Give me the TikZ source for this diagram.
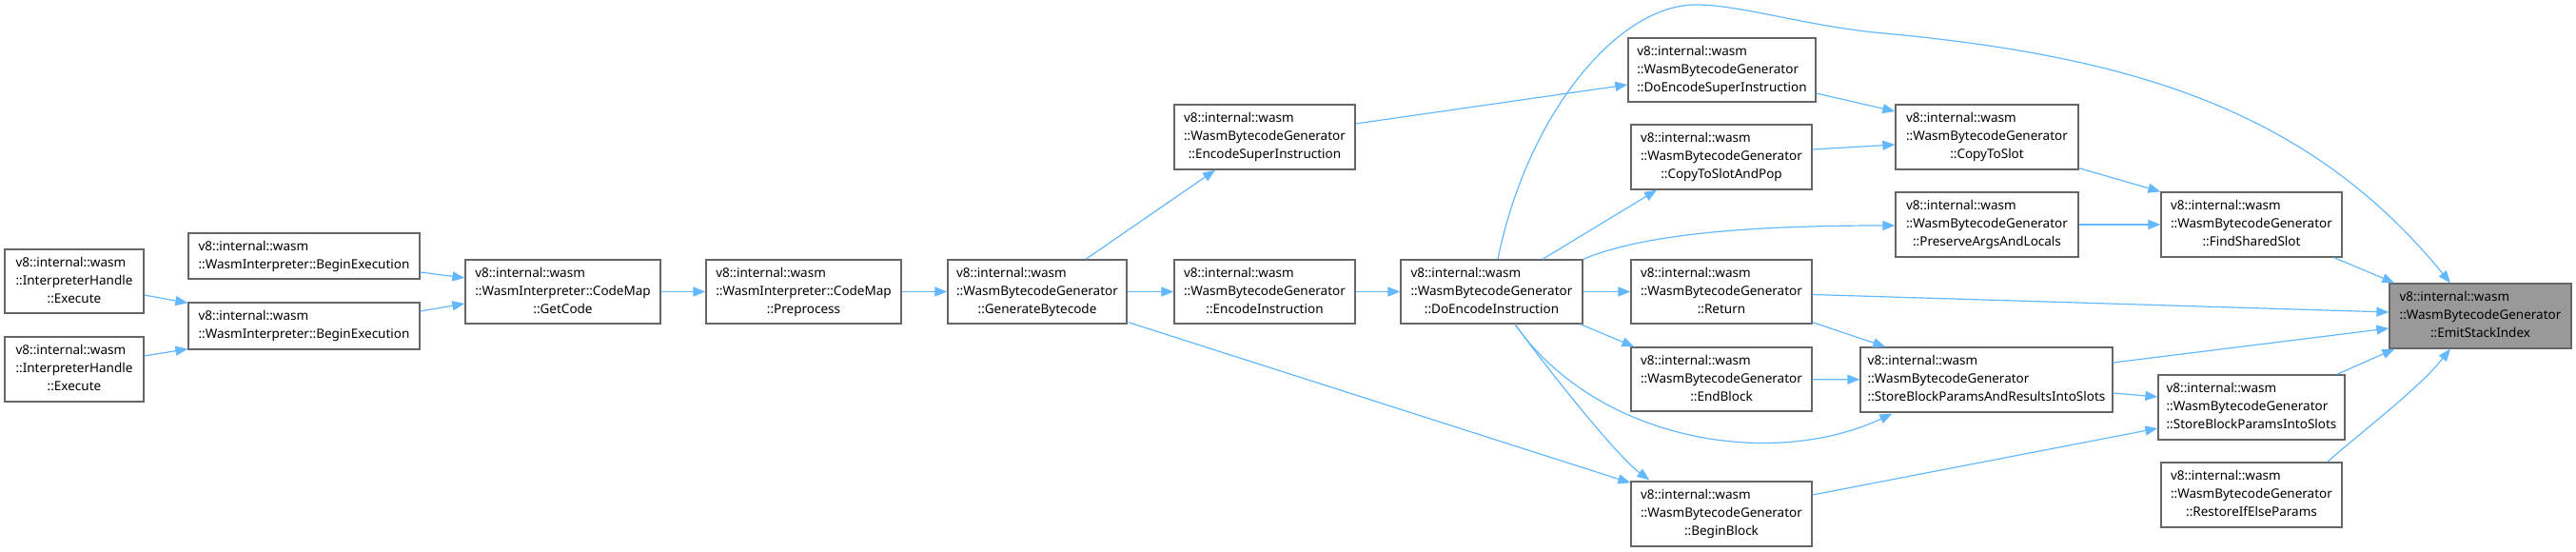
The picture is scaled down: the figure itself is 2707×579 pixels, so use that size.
\documentclass[tikz,border=0pt]{standalone}
\usepackage{fontspec}
\setmainfont{Noto Sans}
\usetikzlibrary{arrows.meta,calc}
\definecolor{edgeblue}{HTML}{63B8FF}
\definecolor{boxgray}{HTML}{666666}
\definecolor{emitfill}{HTML}{999999}
\newcommand{\nodefont}{\fontsize{13.5}{19}\selectfont}
\newcommand{\lblthree}[3]{\begin{tabular}{@{}l@{}}#1\\#2\\\multicolumn{1}{@{}c@{}}{#3}\end{tabular}}
\newcommand{\lbltwo}[2]{\begin{tabular}{@{}l@{}}#1\\\multicolumn{1}{@{}c@{}}{#2}\end{tabular}}
\begin{document}
\begin{tikzpicture}[x=1pt,y=-1pt,
  box/.style={draw=boxgray, fill=white, line width=1.3pt, inner sep=0pt, font=\nodefont, minimum height=67pt},
  edge/.style={draw=edgeblue, line width=1.2pt, -{Triangle[length=13pt,width=10pt,fill=edgeblue]}}]
\useasboundingbox (0,0) rectangle (2707,579);
% nodes
\node[box,minimum width=146pt] (exec1) at (78,295.5) {\lblthree{v8::internal::wasm}{::InterpreterHandle}{::Execute}};
\node[box,minimum width=146pt,minimum height=68pt] (exec2) at (78,388) {\lblthree{v8::internal::wasm}{::InterpreterHandle}{::Execute}};
\node[box,minimum width=243pt,minimum height=48pt] (begin1) at (319.5,269) {\lbltwo{v8::internal::wasm}{::WasmInterpreter::BeginExecution}};
\node[box,minimum width=243pt,minimum height=49pt] (begin2) at (319.5,342.5) {\lbltwo{v8::internal::wasm}{::WasmInterpreter::BeginExecution}};
\node[box,minimum width=205pt] (getcode) at (591.5,306.5) {\lblthree{v8::internal::wasm}{::WasmInterpreter::CodeMap}{::GetCode}};
\node[box,minimum width=205pt] (preproc) at (844.5,306.5) {\lblthree{v8::internal::wasm}{::WasmInterpreter::CodeMap}{::Preprocess}};
\node[box,minimum width=188pt] (genbc) at (1090,306.5) {\lblthree{v8::internal::wasm}{::WasmBytecodeGenerator}{::GenerateBytecode}};
\node[box,minimum width=190pt,minimum height=68pt] (encsuper) at (1329,144) {\lblthree{v8::internal::wasm}{::WasmBytecodeGenerator}{::EncodeSuperInstruction}};
\node[box,minimum width=190pt] (encinstr) at (1329,306.5) {\lblthree{v8::internal::wasm}{::WasmBytecodeGenerator}{::EncodeInstruction}};
\node[box,minimum width=191pt] (doenc) at (1567.5,306.5) {\lblthree{v8::internal::wasm}{::WasmBytecodeGenerator}{::DoEncodeInstruction}};
\node[box,minimum width=197pt] (doencsuper) at (1809.5,73.5) {\lblthree{v8::internal::wasm}{::WasmBytecodeGenerator}{::DoEncodeSuperInstruction}};
\node[box,minimum width=190pt,minimum height=68pt] (copypop) at (1809,165) {\lblthree{v8::internal::wasm}{::WasmBytecodeGenerator}{::CopyToSlotAndPop}};
\node[box,minimum width=190pt] (ret) at (1809,306.5) {\lblthree{v8::internal::wasm}{::WasmBytecodeGenerator}{::Return}};
\node[box,minimum width=190pt] (endblock) at (1809,398.5) {\lblthree{v8::internal::wasm}{::WasmBytecodeGenerator}{::EndBlock}};
\node[box,minimum width=190pt,minimum height=68pt] (beginblock) at (1809,540) {\lblthree{v8::internal::wasm}{::WasmBytecodeGenerator}{::BeginBlock}};
\node[box,minimum width=192pt,minimum height=68pt] (copyslot) at (2088,144) {\lblthree{v8::internal::wasm}{::WasmBytecodeGenerator}{::CopyToSlot}};
\node[box,minimum width=192pt,minimum height=68pt] (preserve) at (2088,236) {\lblthree{v8::internal::wasm}{::WasmBytecodeGenerator}{::PreserveArgsAndLocals}};
\node[box,minimum width=265pt,minimum height=68pt] (sbpar) at (2087.5,399) {\lblthree{v8::internal::wasm}{::WasmBytecodeGenerator}{::StoreBlockParamsAndResultsIntoSlots}};
\node[box,minimum width=190pt,minimum height=68pt] (findshared) at (2366,236) {\lblthree{v8::internal::wasm}{::WasmBytecodeGenerator}{::FindSharedSlot}};
\node[box,minimum width=196pt,minimum height=68pt] (sbpis) at (2366,428) {\lblthree{v8::internal::wasm}{::WasmBytecodeGenerator}{::StoreBlockParamsIntoSlots}};
\node[box,minimum width=190pt,minimum height=68pt] (restore) at (2366,520) {\lblthree{v8::internal::wasm}{::WasmBytecodeGenerator}{::RestoreIfElseParams}};
\node[box,fill=emitfill,minimum width=191pt,minimum height=68pt] (emit) at (2606.5,332) {\lblthree{v8::internal::wasm}{::WasmBytecodeGenerator}{::EmitStackIndex}};
\coordinate (peak) at (1782,5);
\coordinate (knee) at (1980,35);
% edges
\draw[edge] ($(exec1.east)+(0,14.5)$) -- ($(begin2.north west)+(0,1)$);
\draw[edge] ($(exec2.east)+(0,-14)$) -- ($(begin2.south west)+(0,-1)$);
\draw[edge] ($(begin1.east)+(0,17)$) -- ($(getcode.west)+(0,-14.5)$);
\draw[edge] ($(begin2.east)+(0,-15.5)$) -- ($(getcode.west)+(0,12.5)$);
\draw[edge] (getcode) -- (preproc);
\draw[edge] (preproc) -- (genbc);
\draw[edge] ($(genbc.north)+(51,0)$) -- ($(encsuper.south)+(-52,0)$);
\draw[edge] (genbc) -- (encinstr);
\draw[edge] ($(genbc.south east)+(1,-2)$) -- ($(beginblock.north west)+(0,2)$);
\draw[edge] ($(encsuper.east)+(0,-14)$) -- ($(doencsuper.west)+(0,15.5)$);
\draw[edge] (encinstr) -- (doenc);
\draw[edge] ($(doenc.north)+(53.5,0)$) -- ($(copypop.south)+(-68,0)$);
\draw[edge] (doenc.north east) .. controls ($(doenc.north east)+(67,-28)$) and ($(preserve.west)+(-142,1)$) .. ($(preserve.west)+(0,1)$);
\draw[edge] (doenc) -- (ret);
\draw[edge] ($(doenc.south east)+(-3,0)$) -- ($(endblock.north west)+(4,0)$);
\draw[edge] ($(doenc.south)+(24.5,0)$) .. controls ($(doenc.south)+(62.5,52)$) and ($(beginblock.north west)+(-14,-26)$) .. ($(beginblock.north west)+(20,-1)$);
\draw[edge] ($(doenc.south)+(24.5,0)$) .. controls ($(doenc.south)+(110.5,123)$) and ($(sbpar.south west)+(-92,60)$) .. ($(sbpar.south west)+(34,1)$);
\draw[edge] ($(doenc.north)+(6.5,0)$) .. controls (1605,120) and (1700,5) .. (peak) .. controls (1830,5) and (1900,28) .. (knee) .. controls (2250,60) and (2430,120) .. ($(emit.north)+(-31.5,0)$);
\draw[edge] ($(doencsuper.east)+(0,24.5)$) -- ($(copyslot.west)+(0,-27)$);
\draw[edge] ($(copypop.east)+(0,-8)$) -- ($(copyslot.west)+(0,8)$);
\draw[edge] ($(copyslot.south east)+(0,-2)$) -- (findshared.north west);
\draw[edge] (preserve) -- (findshared);
\draw[edge] ($(findshared.south east)+(-9,0)$) -- ($(emit.north west)+(6,0)$);
\draw[edge] ($(ret.east)+(0,3)$) -- ($(emit.west)+(0,-4)$);
\draw[edge] ($(ret.south east)+(0,-2)$) -- ($(sbpar.north west)+(27,0)$);
\draw[edge] (endblock) -- (sbpar);
\draw[edge] ($(sbpar.east)+(0,-18)$) -- ($(emit.west)+(0,13)$);
\draw[edge] ($(sbpar.east)+(0,14)$) -- ($(sbpis.west)+(0,-11)$);
\draw[edge] ($(beginblock.east)+(0,-20)$) -- ($(sbpis.west)+(0,22)$);
\draw[edge] ($(sbpis.north east)+(-9,0)$) -- ($(emit.south west)+(6,0)$);
\draw[edge] ($(restore.north east)+(-16,0)$) .. controls (2480,455) and (2540,410) .. ($(emit.south)+(-31.5,0)$);
\end{tikzpicture}
\end{document}
